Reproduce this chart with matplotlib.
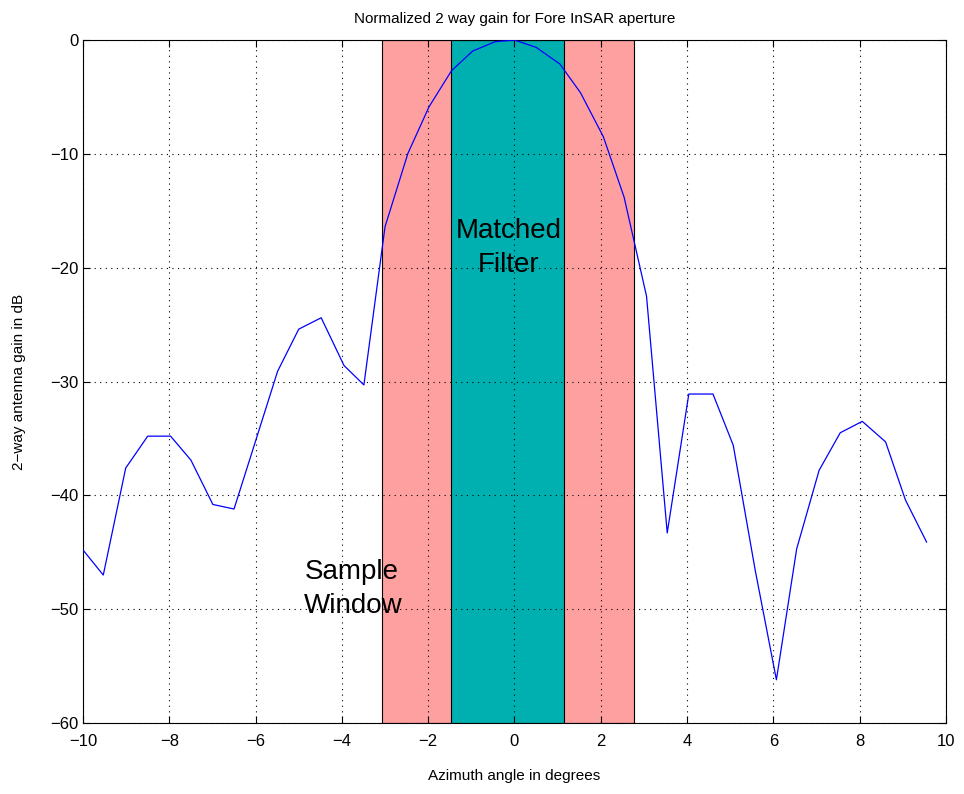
import numpy as np
import matplotlib
matplotlib.use('Agg')
import matplotlib.pyplot as plt

plt.rcParams['font.family'] = ['Liberation Sans', 'DejaVu Sans']

# ── Data ──────────────────────────────────────────────────────────────
az_deg = [-10.0, -9.53, -9.01, -8.50, -7.97, -7.50, -6.99, -6.50, -6.04, -5.49,
          -5.00, -4.48, -3.95, -3.49, -3.00, -2.47, -1.98, -1.46, -0.97, -0.45,
          0.00, 0.50, 1.05, 1.53, 2.06, 2.54, 3.06, 3.54, 4.04, 4.60,
          5.07, 5.58, 6.07, 6.54, 7.06, 7.55, 8.06, 8.60, 9.06, 9.55]
gain_db = [-44.8, -47.0, -37.6, -34.8, -34.8, -36.9, -40.8, -41.2, -35.7, -29.1,
           -25.4, -24.4, -28.6, -30.3, -16.4, -9.96, -5.86, -2.70, -0.97, -0.15,
           0.0, -0.64, -2.1, -4.63, -8.5, -13.8, -22.5, -43.3, -31.1, -31.1,
           -35.6, -46.6, -56.2, -44.7, -37.8, -34.5, -33.5, -35.3, -40.4, -44.1]

sample_window = (-3.08, 2.77)
matched_filter = (-1.46, 1.15)

# ── Plot ──────────────────────────────────────────────────────────────
fig = plt.figure(figsize=(9.64, 7.94), dpi=100)
ax = fig.add_axes([0.0861, 0.0894, 0.8952, 0.8602])

ax.axvspan(*sample_window, facecolor='#FFA0A0', edgecolor='black', lw=0.8, zorder=1)
ax.axvspan(*matched_filter, facecolor='#00B0B0', edgecolor='black', lw=0.8, zorder=1)

ax.plot(az_deg, gain_db, color='#0000FF', lw=0.9, zorder=3)

ax.text(-0.13, -18.3, 'Matched\nFilter', ha='center', va='center',
        fontsize=20, linespacing=1.4, zorder=4)
ax.text(-4.87, -48.2, 'Sample\nWindow', ha='left', va='center',
        fontsize=20, linespacing=1.4, zorder=4)

ax.set_xlim(-10, 10)
ax.set_ylim(-60, 0)
ax.set_xticks(np.arange(-10, 11, 2))
ax.set_yticks(np.arange(-60, 1, 10))
ax.grid(True, color='black', linestyle=(0, (1, 4)), lw=0.8, zorder=2)
ax.set_axisbelow(False)
ax.tick_params(direction='in', top=True, right=True, labelsize=12, length=5)
ax.tick_params(axis='x', pad=8)
for s in ax.spines.values():
    s.set_linewidth(0.8)

ax.set_title('Normalized 2 way gain for Fore InSAR aperture', fontsize=11, pad=12)
ax.set_xlabel('Azimuth angle in degrees', fontsize=11, labelpad=14)
ax.set_ylabel('2\u2212way antenna gain in dB', fontsize=11, labelpad=17)

fig.savefig('out.png', dpi=100)
